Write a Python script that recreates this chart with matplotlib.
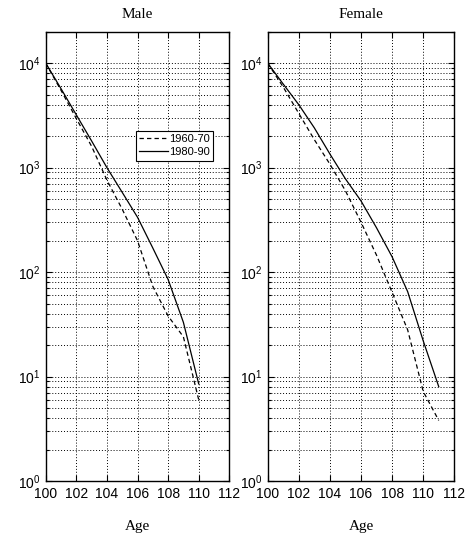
import matplotlib
matplotlib.use('Agg')
import matplotlib.pyplot as plt
import numpy as np
from matplotlib.ticker import LogLocator, NullFormatter, MultipleLocator

# Survivors out of 10^4 at age 100
male_ages = [100, 101, 102, 103, 104, 105, 106, 107, 108, 109, 110]
male_1960 = [10000, 5500, 2950, 1600, 760, 400, 200, 73, 38, 24, 6]
male_1980 = [10000, 5700, 3200, 1800, 1000, 580, 335, 170, 85, 33, 8.5]

female_ages = [100, 101, 102, 103, 104, 105, 106, 107, 108, 109, 110, 111]
female_1960 = [10000, 5900, 3300, 1850, 1080, 600, 300, 145, 64, 28, 7.2, 3.8]
female_1980 = [10000, 6300, 4000, 2400, 1350, 780, 480, 265, 140, 65, 22, 8]

plt.rcParams['font.family'] = ['Liberation Sans', 'DejaVu Sans']
plt.rcParams['mathtext.default'] = 'regular'

W, H = 474, 548
fig = plt.figure(figsize=(W / 100, H / 100), dpi=100)

# axes boxes in pixels: left, right, top, bottom
boxes = [(45.7, 229.3, 31.7, 481), (267.7, 454.3, 31.7, 481)]
titles = ['Male', 'Female']
data = [(male_ages, male_1960, male_1980), (female_ages, female_1960, female_1980)]

grid_kw = dict(color='black', linestyle=(0, (1, 2)), linewidth=0.7)

for i, (l, r, t, b) in enumerate(boxes):
    ax = fig.add_axes([l / W, 1 - b / H, (r - l) / W, (b - t) / H])
    ages, old, new = data[i]
    h1, = ax.plot(ages, old, color='black', linestyle=(0, (3.5, 2.5)), linewidth=0.9, label='1960-70')
    h2, = ax.plot(ages, new, color='black', linestyle='-', linewidth=0.9, label='1980-90')
    ax.set_yscale('log')
    ax.set_xlim(100, 112)
    ax.set_ylim(1, 2e4)
    ax.xaxis.set_major_locator(MultipleLocator(2))
    ax.yaxis.set_major_locator(LogLocator(base=10, numticks=10))
    ax.yaxis.set_minor_locator(LogLocator(base=10, subs=np.arange(2, 10), numticks=20))
    ax.yaxis.set_minor_formatter(NullFormatter())
    ax.grid(True, which='major', axis='both', **grid_kw)
    ax.grid(True, which='minor', axis='y', **grid_kw)
    ax.tick_params(which='both', direction='in', top=True, right=True, labelsize=10, width=0.8)
    ax.tick_params(which='major', length=4, pad=4)
    ax.tick_params(which='minor', length=2)
    for s in ax.spines.values():
        s.set_linewidth(1.0)
    ax.set_title(titles[i], family='Liberation Serif', fontsize=11, pad=10)
    ax.set_xlabel('Age', family='Liberation Serif', fontsize=11, labelpad=14)
    if i == 0:
        leg = ax.legend(handles=[h1, h2], loc='upper left', bbox_to_anchor=(0.49, 0.78),
                        fontsize=8, frameon=True, fancybox=False, framealpha=1,
                        edgecolor='black', borderpad=0.3, handlelength=2.6,
                        handletextpad=0.1, labelspacing=0.3, borderaxespad=0)
        leg.get_frame().set_linewidth(0.8)

fig.savefig('out.png', dpi=100)
